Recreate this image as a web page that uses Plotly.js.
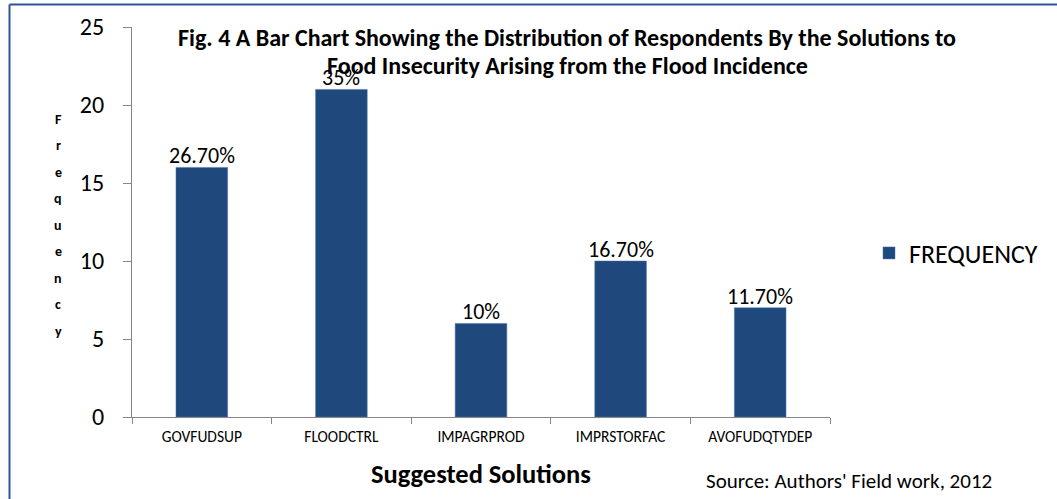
<!DOCTYPE html>
<html>
<head>
<meta charset="utf-8">
<script src="https://cdn.plot.ly/plotly-3.0.1.min.js"></script>
<style>
html,body{margin:0;padding:0;background:#fff;}
#chart{width:1057px;height:499px;}
</style>
</head>
<body>
<div id="chart"></div>
<script>
const categories = ["GOVFUDSUP", "FLOODCTRL", "IMPAGRPROD", "IMPRSTORFAC", "AVOFUDQTYDEP"];
const frequency = [16, 21, 6, 10, 7];
const percentLabels = ["26.70%", "35%", "10%", "16.70%", "11.70%"];
const yTicks = [0, 5, 10, 15, 20, 25];
const seriesName = "FREQUENCY";
const yTitle = "Frequency";
const titleLines = ["Fig. 4 A Bar Chart Showing the Distribution of Respondents By the Solutions to",
                    "Food Insecurity Arising from the Flood Incidence"];
const xTitle = "Suggested Solutions";
const sourceText = "Source: Authors' Field work, 2012";

const FONT = "Carlito, Calibri, Lato, 'Liberation Sans', sans-serif";
const L = 132, R = 227, T = 27, B = 82, W = 1057, H = 499;
const pw = W - L - R, ph = H - T - B;
const px = x => (x - L) / pw;
const py = y => (H - B - y) / ph;

const trace = {
  type: "bar",
  x: categories,
  y: frequency,
  name: seriesName,
  marker: {color: "#1f497d", line: {color: "#4f74a8", width: 0.5}},
  hoverinfo: "x+y"
};

const annotations = [
  {text: titleLines[0], xref: "paper", yref: "paper", x: px(567), y: py(37), xanchor: "center", yanchor: "middle",
   showarrow: false, font: {family: FONT, size: 24, color: "#000", weight: "bold"}},
  {text: titleLines[1], xref: "paper", yref: "paper", x: px(567), y: py(65), xanchor: "center", yanchor: "middle",
   showarrow: false, font: {family: FONT, size: 24, color: "#000", weight: "bold"}},
  {text: xTitle, xref: "paper", yref: "paper", x: px(481), y: py(474), xanchor: "center", yanchor: "middle",
   showarrow: false, font: {family: FONT, size: 26.5, color: "#000", weight: "bold"}},
  {text: sourceText, xref: "paper", yref: "paper", x: px(704), y: py(481), xanchor: "left", yanchor: "middle",
   showarrow: false, font: {family: FONT, size: 21, color: "#000"}}
];
categories.forEach((c, i) => {
  annotations.push({text: percentLabels[i], xref: "x", yref: "y", x: c, y: frequency[i],
    xanchor: "center", yanchor: "bottom", yshift: -4, showarrow: false,
    font: {family: FONT, size: 22, color: "#000"}});
});
yTitle.split("").forEach((ch, i) => {
  annotations.push({text: "<b>" + ch + "</b>", xref: "paper", yref: "paper", x: px(58), y: py(119 + i * 26.5),
    xanchor: "center", yanchor: "middle", showarrow: false, font: {family: FONT, size: 14, color: "#000"}});
});

const layout = {
  width: W, height: H,
  margin: {l: L, r: R, t: T, b: B, pad: 0},
  paper_bgcolor: "#fff", plot_bgcolor: "#fff",
  bargap: 0.63,
  showlegend: true,
  legend: {x: px(869), y: py(253), xanchor: "left", yanchor: "middle",
    font: {family: FONT, size: 26, color: "#000"}, itemwidth: 30, bgcolor: "rgba(0,0,0,0)"},
  xaxis: {
    type: "category",
    showline: true, linecolor: "#868686", linewidth: 1,
    ticks: "outside", ticklen: 6, tickcolor: "#868686", tickson: "boundaries",
    tickfont: {family: FONT, size: 15.5, color: "#000"}, ticklabelstandoff: 5,
    showgrid: false, zeroline: false, fixedrange: true
  },
  yaxis: {
    range: [0, 25], tickvals: yTicks,
    showline: true, linecolor: "#868686", linewidth: 1,
    ticks: "outside", ticklen: 8, tickcolor: "#868686",
    tickfont: {family: FONT, size: 24, color: "#000"}, ticklabelstandoff: 14,
    showgrid: false, zeroline: false, fixedrange: true
  },
  annotations: annotations,
  shapes: [
    {type: "line", xref: "paper", yref: "paper", x0: px(9.5), x1: px(W), y0: py(4.5), y1: py(4.5),
     line: {color: "#2f5597", width: 2}},
    {type: "line", xref: "paper", yref: "paper", x0: px(9.5), x1: px(9.5), y0: py(4.5), y1: py(H),
     line: {color: "#2f5597", width: 2}}
  ]
};

Plotly.newPlot("chart", [trace], layout, {displayModeBar: false, responsive: false});
</script>
</body>
</html>
